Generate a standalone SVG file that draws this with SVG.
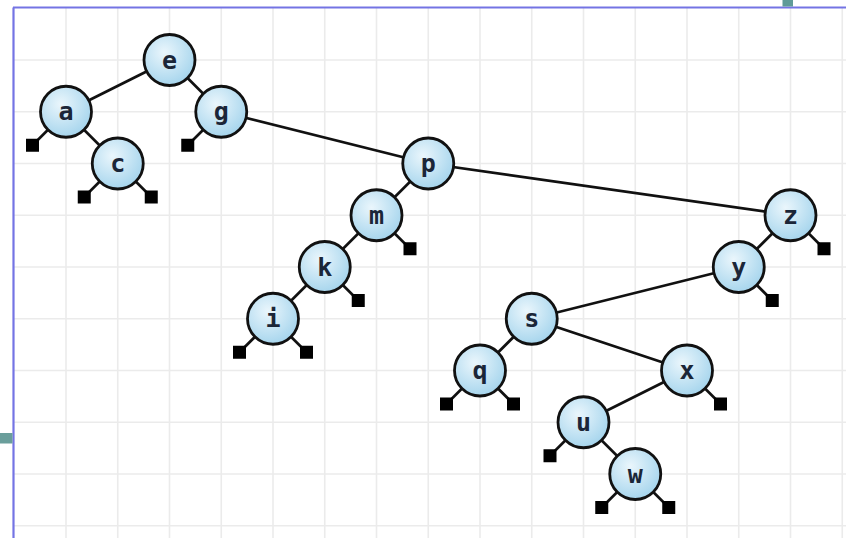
<svg xmlns="http://www.w3.org/2000/svg" width="846" height="538" viewBox="0 0 846 538">
<defs>
<radialGradient id="nf" cx="40%" cy="35%" r="70%">
<stop offset="0" stop-color="#eaf6fc"/>
<stop offset="1" stop-color="#a2d3ec"/>
</radialGradient>
<style>
.grid line{stroke:#ebebeb;stroke-width:1.6}
.edge line{stroke:#111;stroke-width:2.7}
.node circle{fill:url(#nf);stroke:#111;stroke-width:2.8}
.node text{font-family:"DejaVu Sans Mono","Liberation Mono",monospace;font-size:25px;font-weight:bold;fill:#1b2638;text-anchor:middle}
.nil{fill:#000}
</style>
</defs>
<rect width="846" height="538" fill="#fff"/>
<g class="grid">
<line x1="66" y1="8" x2="66" y2="538"/>
<line x1="117.75" y1="8" x2="117.75" y2="538"/>
<line x1="169.5" y1="8" x2="169.5" y2="538"/>
<line x1="221.25" y1="8" x2="221.25" y2="538"/>
<line x1="273" y1="8" x2="273" y2="538"/>
<line x1="324.75" y1="8" x2="324.75" y2="538"/>
<line x1="376.5" y1="8" x2="376.5" y2="538"/>
<line x1="428.25" y1="8" x2="428.25" y2="538"/>
<line x1="480" y1="8" x2="480" y2="538"/>
<line x1="531.75" y1="8" x2="531.75" y2="538"/>
<line x1="583.5" y1="8" x2="583.5" y2="538"/>
<line x1="635.25" y1="8" x2="635.25" y2="538"/>
<line x1="687" y1="8" x2="687" y2="538"/>
<line x1="738.75" y1="8" x2="738.75" y2="538"/>
<line x1="790.5" y1="8" x2="790.5" y2="538"/>
<line x1="842.25" y1="8" x2="842.25" y2="538"/>
<line x1="14" y1="60" x2="846" y2="60"/>
<line x1="14" y1="111.75" x2="846" y2="111.75"/>
<line x1="14" y1="163.5" x2="846" y2="163.5"/>
<line x1="14" y1="215.25" x2="846" y2="215.25"/>
<line x1="14" y1="267" x2="846" y2="267"/>
<line x1="14" y1="318.75" x2="846" y2="318.75"/>
<line x1="14" y1="370.5" x2="846" y2="370.5"/>
<line x1="14" y1="422.25" x2="846" y2="422.25"/>
<line x1="14" y1="474" x2="846" y2="474"/>
<line x1="14" y1="525.75" x2="846" y2="525.75"/>
</g>
<line x1="13.5" y1="7.5" x2="13.5" y2="538" stroke="#7474e4" stroke-width="2.2"/>
<line x1="13" y1="7.5" x2="846" y2="7.5" stroke="#7474e4" stroke-width="2.2"/>
<rect x="782.5" y="0" width="10.5" height="6.5" fill="#5f9b98"/>
<rect x="0" y="433" width="12.5" height="10.5" fill="#6a9e9b"/>
<g class="edge" id="connectors">
<line x1="169.5" y1="60" x2="66" y2="111.75"/>
<line x1="169.5" y1="60" x2="221.25" y2="111.75"/>
<line x1="66" y1="111.75" x2="117.75" y2="163.5"/>
<line x1="221.25" y1="111.75" x2="428.25" y2="163.5"/>
<line x1="428.25" y1="163.5" x2="376.5" y2="215.25"/>
<line x1="428.25" y1="163.5" x2="790.5" y2="215.25"/>
<line x1="376.5" y1="215.25" x2="324.75" y2="267"/>
<line x1="324.75" y1="267" x2="273" y2="318.75"/>
<line x1="790.5" y1="215.25" x2="738.75" y2="267"/>
<line x1="738.75" y1="267" x2="531.75" y2="318.75"/>
<line x1="531.75" y1="318.75" x2="480" y2="370.5"/>
<line x1="531.75" y1="318.75" x2="687" y2="370.5"/>
<line x1="687" y1="370.5" x2="583.5" y2="422.25"/>
<line x1="583.5" y1="422.25" x2="635.25" y2="474"/>
<line x1="66" y1="111.75" x2="32.5" y2="145.25"/>
<line x1="117.75" y1="163.5" x2="84.25" y2="197"/>
<line x1="117.75" y1="163.5" x2="151.25" y2="197"/>
<line x1="221.25" y1="111.75" x2="187.75" y2="145.25"/>
<line x1="376.5" y1="215.25" x2="410" y2="248.75"/>
<line x1="324.75" y1="267" x2="358.25" y2="300.5"/>
<line x1="273" y1="318.75" x2="239.5" y2="352.25"/>
<line x1="273" y1="318.75" x2="306.5" y2="352.25"/>
<line x1="790.5" y1="215.25" x2="824" y2="248.75"/>
<line x1="738.75" y1="267" x2="772.25" y2="300.5"/>
<line x1="480" y1="370.5" x2="446.5" y2="404"/>
<line x1="480" y1="370.5" x2="513.5" y2="404"/>
<line x1="687" y1="370.5" x2="720.5" y2="404"/>
<line x1="583.5" y1="422.25" x2="550" y2="455.75"/>
<line x1="635.25" y1="474" x2="601.75" y2="507.5"/>
<line x1="635.25" y1="474" x2="668.75" y2="507.5"/>
</g>
<g id="nil-leaves" class="nil">
<rect x="26" y="138.75" width="13" height="13"/>
<rect x="77.75" y="190.5" width="13" height="13"/>
<rect x="144.75" y="190.5" width="13" height="13"/>
<rect x="181.25" y="138.75" width="13" height="13"/>
<rect x="403.5" y="242.25" width="13" height="13"/>
<rect x="351.75" y="294" width="13" height="13"/>
<rect x="233" y="345.75" width="13" height="13"/>
<rect x="300" y="345.75" width="13" height="13"/>
<rect x="817.5" y="242.25" width="13" height="13"/>
<rect x="765.75" y="294" width="13" height="13"/>
<rect x="440" y="397.5" width="13" height="13"/>
<rect x="507" y="397.5" width="13" height="13"/>
<rect x="714" y="397.5" width="13" height="13"/>
<rect x="543.5" y="449.25" width="13" height="13"/>
<rect x="595.25" y="501" width="13" height="13"/>
<rect x="662.25" y="501" width="13" height="13"/>
</g>
<g id="node-e" class="node"><circle cx="169.5" cy="60" r="25.5"/><text x="169.5" y="68.5">e</text></g>
<g id="node-a" class="node"><circle cx="66" cy="111.75" r="25.5"/><text x="66" y="120.25">a</text></g>
<g id="node-c" class="node"><circle cx="117.75" cy="163.5" r="25.5"/><text x="117.75" y="172">c</text></g>
<g id="node-g" class="node"><circle cx="221.25" cy="111.75" r="25.5"/><text x="221.25" y="120.25">g</text></g>
<g id="node-p" class="node"><circle cx="428.25" cy="163.5" r="25.5"/><text x="428.25" y="172">p</text></g>
<g id="node-m" class="node"><circle cx="376.5" cy="215.25" r="25.5"/><text x="376.5" y="223.75">m</text></g>
<g id="node-k" class="node"><circle cx="324.75" cy="267" r="25.5"/><text x="324.75" y="275.5">k</text></g>
<g id="node-i" class="node"><circle cx="273" cy="318.75" r="25.5"/><text x="273" y="327.25">i</text></g>
<g id="node-z" class="node"><circle cx="790.5" cy="215.25" r="25.5"/><text x="790.5" y="223.75">z</text></g>
<g id="node-y" class="node"><circle cx="738.75" cy="267" r="25.5"/><text x="738.75" y="275.5">y</text></g>
<g id="node-s" class="node"><circle cx="531.75" cy="318.75" r="25.5"/><text x="531.75" y="327.25">s</text></g>
<g id="node-q" class="node"><circle cx="480" cy="370.5" r="25.5"/><text x="480" y="379">q</text></g>
<g id="node-x" class="node"><circle cx="687" cy="370.5" r="25.5"/><text x="687" y="379">x</text></g>
<g id="node-u" class="node"><circle cx="583.5" cy="422.25" r="25.5"/><text x="583.5" y="430.75">u</text></g>
<g id="node-w" class="node"><circle cx="635.25" cy="474" r="25.5"/><text x="635.25" y="482.5">w</text></g>
</svg>
